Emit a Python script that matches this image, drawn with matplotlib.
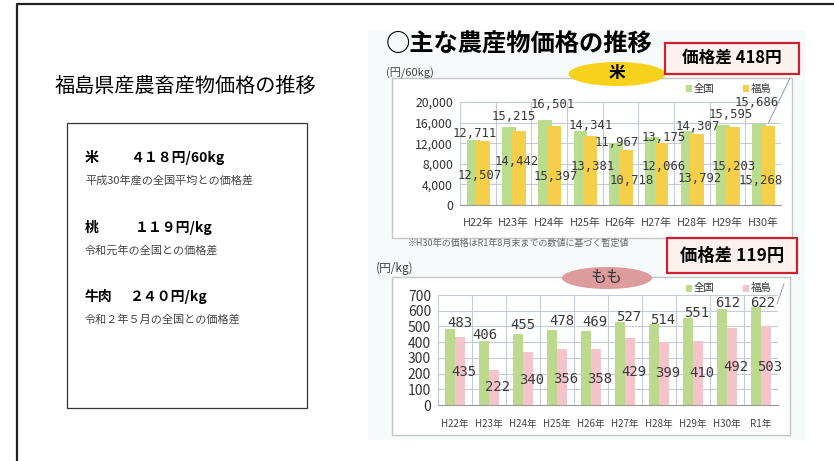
import matplotlib
matplotlib.use("Agg")
import matplotlib.pyplot as plt
from matplotlib.patches import Rectangle, Ellipse

plt.rcParams['font.family'] = ['Noto Sans CJK JP', 'DejaVu Sans']

W, H = 834, 461

# データ
rice_years = ["H22年", "H23年", "H24年", "H25年", "H26年", "H27年", "H28年", "H29年", "H30年"]
rice_national = [12711, 15215, 16501, 14341, 11967, 13175, 14307, 15595, 15686]
rice_fukushima = [12507, 14442, 15397, 13381, 10718, 12066, 13792, 15203, 15268]
rice_yticks = [0, 4000, 8000, 12000, 16000, 20000]

peach_years = ["H22年", "H23年", "H24年", "H25年", "H26年", "H27年", "H28年", "H29年", "H30年", "R1年"]
peach_national = [483, 406, 455, 478, 469, 527, 514, 551, 612, 622]
peach_fukushima = [435, 222, 340, 356, 358, 429, 399, 410, 492, 503]
peach_yticks = [0, 100, 200, 300, 400, 500, 600, 700]

summary_items = ["米", "桃", "牛肉"]
summary_values = ["４１８円/60kg", "１１９円/kg", "２４０円/kg"]
summary_notes = ["平成30年産の全国平均との価格差", "令和元年の全国との価格差", "令和２年５月の全国との価格差"]

# ラベルの配置（元の図の手置きラベル位置）
rice_nat_label_y = [13980, 17090, 19420, 15340, 12040, 13010, 15150, 17480, 19810]
rice_nat_label_dx = [-0.08, 0, 0.1, 0.15, -0.1, 0.22, 0.15, 0.08, -0.17]
rice_fk_label_y = [5800, 8350, 5440, 7570, 4850, 7570, 5240, 7570, 4850]
rice_fk_label_dx = [0.06, 0.1, 0.17, 0.22, 0.3, 0.2, 0.22, 0.17, -0.08]
peach_nat_label_y = [522, 446, 510, 535, 529, 560, 541, 586, 650, 650]
peach_nat_label_dx = [0.15, -0.12, 0, 0.15, 0.12, 0.1, 0.1, 0.1, 0.03, 0.06]
peach_fk_label_y = [210, 115, 160, 165, 165, 210, 205, 205, 240, 240]
peach_fk_label_dx = [0.25] * 10

fig = plt.figure(figsize=(W / 100, H / 100), dpi=100)

# 背景用の座標（ピクセル）
bg = fig.add_axes([0, 0, 1, 1], zorder=0)
bg.set_xlim(0, W)
bg.set_ylim(H, 0)
bg.axis('off')


def rect(x0, y0, x1, y1):
    return [x0 / W, 1 - y1 / H, (x1 - x0) / W, (y1 - y0) / H]


# 外枠
bg.plot([17, 17, W + 5], [H + 5, 4, 4], color='#222222', lw=1.6)

# 左側
bg.text(55, 86, "福島県産農畜産物価格の推移", fontsize=14.5, va='center', ha='left', color='black')
bg.add_patch(Rectangle((67, 123), 240, 285, facecolor='white', edgecolor='#333333', lw=0.9))
value_x = [130, 135, 129]
for i in range(3):
    y = 158 + i * 69.5
    bg.text(85, y, summary_items[i], fontsize=10, fontweight='bold', va='center', ha='left')
    bg.text(value_x[i], y, summary_values[i], fontsize=10, fontweight='bold', va='center', ha='left')
    bg.text(85, y + 22.5, summary_notes[i], fontsize=8, va='center', ha='left', color='#444444')

# 右側のパネル
bg.add_patch(Rectangle((368, 30), 438, 410, facecolor='#f7fafb', edgecolor='none'))
bg.text(386, 45, "○主な農産物価格の推移", fontsize=17.5, fontweight='bold', va='center', ha='left')

# 米の枠
bg.add_patch(Rectangle((392, 78), 400, 160, facecolor='white', edgecolor='#c4c4c4', lw=1))
bg.text(386, 73, "(円/60kg)", fontsize=8, va='center', ha='left', color='#444444')
bg.add_patch(Ellipse((617, 74), 97, 24, facecolor='#f7d21c', edgecolor='none'))
bg.text(617, 73, "米", fontsize=12, fontweight='bold', va='center', ha='center')
bg.add_patch(Rectangle((665, 43), 134, 31, facecolor='#fcf1ee', edgecolor='#c9212f', lw=1.6))
bg.text(732, 58, "価格差 418円", fontsize=12, fontweight='bold', va='center', ha='center')
bg.text(408, 243, "※H30年の価格はR1年8月末までの数値に基づく暫定値", fontsize=6.5, va='center', ha='left', color='#666666')

# もも の枠
bg.add_patch(Rectangle((392, 277), 398, 158, facecolor='white', edgecolor='#c4c4c4', lw=1))
bg.text(376, 268, "(円/kg)", fontsize=8.5, va='center', ha='left', color='#444444')
bg.add_patch(Ellipse((607, 278), 90, 22, facecolor='#dc9c9c', edgecolor='none'))
bg.text(607, 277, "もも", fontsize=11.5, va='center', ha='center', color='#333333')
bg.add_patch(Rectangle((667, 238), 130, 35, facecolor='#fcf1ee', edgecolor='#c9212f', lw=1.6))
bg.text(732, 256, "価格差 119円", fontsize=12.5, fontweight='bold', va='center', ha='center')

# 凡例
legend_items = [
    (89, '#b9dc8f', '#f5cf4a'),
    (288, '#bcd98e', '#f5c4cb'),
]
for y, c1, c2 in legend_items:
    bg.add_patch(Rectangle((686, y - 3.5), 6, 7, facecolor=c1, edgecolor='none'))
    bg.text(694, y, "全国", fontsize=7.5, va='center', ha='left', color='#333333')
    bg.add_patch(Rectangle((743, y - 3.5), 6, 7, facecolor=c2, edgecolor='none'))
    bg.text(751, y, "福島", fontsize=7.5, va='center', ha='left', color='#333333')

# 引き出し線
bg.plot([790, 768], [78, 124], color='#6f8fc8', lw=0.6)
bg.plot([784, 777], [284, 304], color='#6f8fc8', lw=0.6)

grid_color = '#c3cad8'
label_color = '#3a3a3a'


def draw_chart(ax, years, nat, fk, yticks, c_nat, c_fk, width, off_nat, off_fk,
               nat_y, nat_dx, fk_y, fk_dx, fmt, label_size, xlabel_size, xpad):
    n = len(years)
    xs = list(range(n))
    ax.set_facecolor('none')
    ax.bar([x + off_nat for x in xs], nat, width=width, color=c_nat, zorder=2)
    ax.bar([x + off_fk for x in xs], fk, width=width, color=c_fk, zorder=3)
    ax.set_xlim(-0.5, n - 0.5)
    ax.set_ylim(yticks[0], yticks[-1])
    ax.set_yticks(yticks)
    ax.set_yticklabels([fmt(v) for v in yticks])
    ax.set_xticks(xs)
    ax.set_xticklabels(years)
    ax.set_xticks([x - 0.5 for x in range(n + 1)], minor=True)
    ax.grid(True, axis='y', which='major', color=grid_color, lw=0.8, zorder=0)
    ax.grid(True, axis='x', which='minor', color=grid_color, lw=0.8, zorder=0)
    ax.tick_params(which='both', length=0)
    ax.tick_params(axis='y', labelsize=label_size, labelcolor='#333333', pad=5)
    ax.tick_params(axis='x', labelsize=xlabel_size, labelcolor='#444444', pad=xpad)
    for s in ['top', 'right', 'left']:
        ax.spines[s].set_visible(False)
    ax.spines['bottom'].set_color('#999999')
    for i in xs:
        ax.text(i + nat_dx[i], nat_y[i], fmt(nat[i]), ha='center', va='center',
                fontsize=label_size, color=label_color, family='DejaVu Sans Mono',
                zorder=5, clip_on=False)
        ax.text(i + fk_dx[i], fk_y[i], fmt(fk[i]), ha='center', va='center',
                fontsize=label_size, color=label_color, family='DejaVu Sans Mono', zorder=5)


ax1 = fig.add_axes(rect(460, 102, 781, 205), zorder=2)
draw_chart(ax1, rice_years, rice_national, rice_fukushima, rice_yticks,
           '#b9dc8f', '#f5cf4a', 0.38, -0.12, 0.15,
           rice_nat_label_y, rice_nat_label_dx, rice_fk_label_y, rice_fk_label_dx,
           lambda v: f"{v:,}", 8.8, 7.8, 9)

ax2 = fig.add_axes(rect(438, 295, 778, 405), zorder=2)
draw_chart(ax2, peach_years, peach_national, peach_fukushima, peach_yticks,
           '#bcd98e', '#f5c4cb', 0.3, -0.15, 0.15,
           peach_nat_label_y, peach_nat_label_dx, peach_fk_label_y, peach_fk_label_dx,
           lambda v: f"{v}", 10, 7, 10)

fig.savefig("out.png", dpi=100)
